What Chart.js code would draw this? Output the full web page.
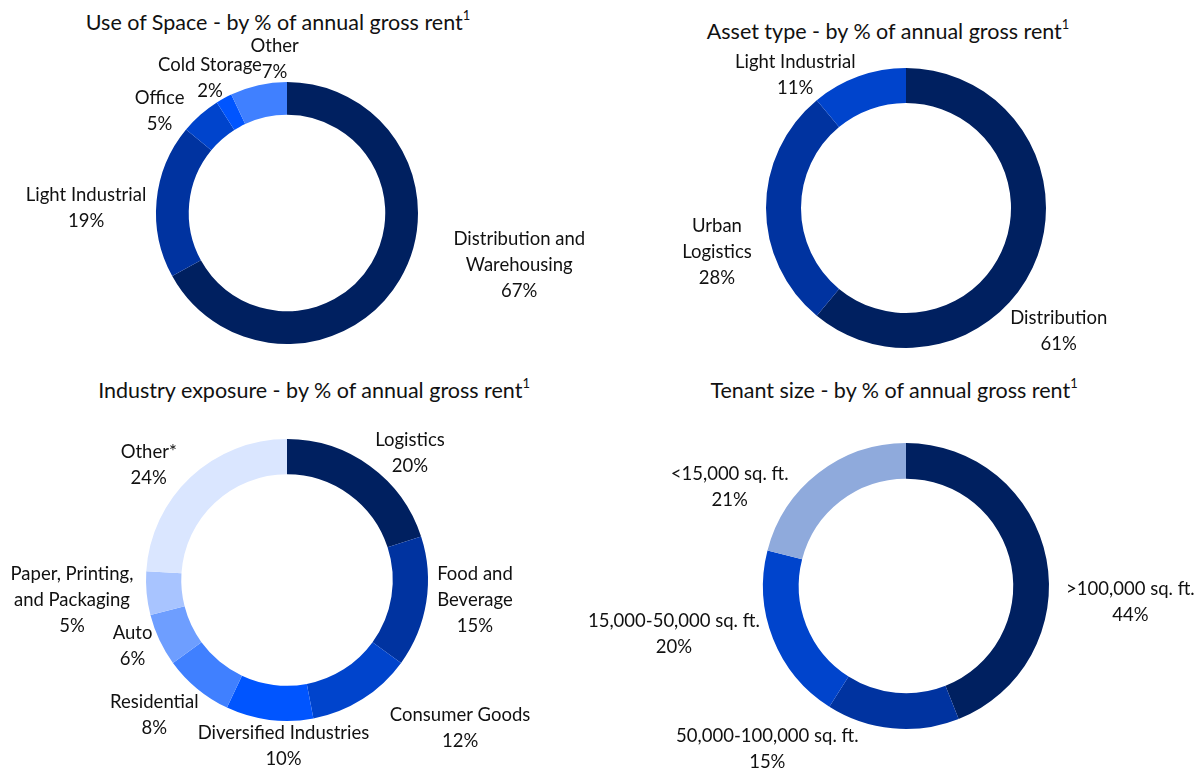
<!DOCTYPE html>
<html>
<head>
<meta charset="utf-8">
<title>Portfolio breakdown</title>
<script src="https://cdn.jsdelivr.net/npm/chart.js@4.4.1/dist/chart.umd.min.js"></script>
<style>
  body { margin: 0; background: #fff; font-family: Lato, "Open Sans", sans-serif; }
  #wrap { position: relative; width: 1202px; height: 772px; overflow: hidden; }
  canvas { position: absolute; }
  .ttl { position: absolute; font-size: 21.5px; color: #111; white-space: nowrap; transform: translate(-50%, -50%); }
  .ttl sup { font-size: 0.6em; vertical-align: 0.75em; line-height: 0; }
</style>
</head>
<body>
<div id="wrap">
  <div class="ttl" style="left:278px; top:22px">Use of Space - by % of annual gross rent<sup>1</sup></div>
  <div class="ttl" style="left:888px; top:31px">Asset type - by % of annual gross rent<sup>1</sup></div>
  <div class="ttl" style="left:314px; top:390px">Industry exposure - by % of annual gross rent<sup>1</sup></div>
  <div class="ttl" style="left:894px; top:390px">Tenant size - by % of annual gross rent<sup>1</sup></div>
  <canvas id="cSpace" width="601" height="386" style="left:0; top:0"></canvas>
  <canvas id="cAsset" width="601" height="386" style="left:601px; top:0"></canvas>
  <canvas id="cIndustry" width="601" height="386" style="left:0; top:386px"></canvas>
  <canvas id="cTenant" width="642" height="386" style="left:560px; top:386px"></canvas>
</div>
<script>
// ---- data ----
const spaceLabels = [["Distribution and", "Warehousing"], ["Light Industrial"], ["Office"], ["Cold Storage"], ["Other"]];
const spaceValues = [67, 19, 5, 2, 7];

const assetLabels = [["Distribution"], ["Urban", "Logistics"], ["Light Industrial"]];
const assetValues = [61, 28, 11];

const industryLabels = [["Logistics"], ["Food and", "Beverage"], ["Consumer Goods"], ["Diversified Industries"],
  ["Residential"], ["Auto"], ["Paper, Printing,", "and Packaging"], ["Other*"]];
const industryValues = [20, 15, 12, 10, 8, 6, 5, 24];

const tenantLabels = [[">100,000 sq. ft."], ["50,000-100,000 sq. ft."], ["15,000-50,000 sq. ft."], ["<15,000 sq. ft."]];
const tenantValues = [44, 15, 20, 21];

// ---- colours ----
const navy = "#002060";
const blue2 = "#0033A0";
const blue3 = "#0044CC";
const blue4 = "#0055FF";
const blue5 = "#4080FF";
const blue6 = "#6E9EFF";
const blue7 = "#A8C4FF";
const blue8 = "#DAE6FF";
const greyBlue = "#8FAADC";

// label placement: [angle shift in degrees from slice middle, distance beyond ring]
const spaceLabelPos = [[-18, 107], [-4, 70], [-10, 32], [-1, 24], [8, 23]];
const assetLabelPos = [[19, 56], [-13, 54], [-20, 33]];
const industryLabelPos = [[8, 36], [-3, 48], [-17, 87], [-6, 25], [5, 48], [2, 27], [0, 75], [-7, 39]];
const tenantLabelPos = [[15, 82], [35, 71], [10, 94], [-23, 59]];

const outsideLabels = {
  id: "outsideLabels",
  afterDatasetsDraw(chart, args, opts) {
    const ctx = chart.ctx;
    const meta = chart.getDatasetMeta(0);
    const values = chart.data.datasets[0].data;
    ctx.save();
    ctx.font = "18.5px Lato, 'Open Sans', sans-serif";
    ctx.fillStyle = "#111";
    ctx.textAlign = "center";
    ctx.textBaseline = "middle";
    meta.data.forEach((arc, i) => {
      const p = arc.getProps(["x", "y", "startAngle", "endAngle", "outerRadius"], true);
      const place = opts.pos[i];
      const mid = (p.startAngle + p.endAngle) / 2 + place[0] * Math.PI / 180;
      const r = p.outerRadius + place[1];
      const lx = p.x + Math.cos(mid) * r;
      const ly = p.y + Math.sin(mid) * r;
      const lines = chart.data.labels[i].concat([values[i] + "%"]);
      const lh = 26;
      lines.forEach((t, j) => {
        ctx.fillText(t, lx, ly + (j - (lines.length - 1) / 2) * lh);
      });
    });
    ctx.restore();
  }
};

function makeDonut(id, labels, values, colors, pos, pad) {
  return new Chart(document.getElementById(id), {
    type: "doughnut",
    data: {
      labels: labels,
      datasets: [{
        data: values,
        backgroundColor: colors,
        borderWidth: 0
      }]
    },
    options: {
      responsive: false,
      maintainAspectRatio: false,
      animation: false,
      cutout: "75%",
      layout: { padding: pad },
      plugins: {
        legend: { display: false },
        tooltip: { enabled: false },
        outsideLabels: { pos: pos }
      }
    },
    plugins: [outsideLabels]
  });
}

makeDonut("cSpace", spaceLabels, spaceValues, [navy, blue2, blue3, blue4, blue5], spaceLabelPos,
  { left: 156, right: 183, top: 82, bottom: 42 });
makeDonut("cAsset", assetLabels, assetValues, [navy, blue2, blue3], assetLabelPos,
  { left: 165, right: 156, top: 68, bottom: 38 });
makeDonut("cIndustry", industryLabels, industryValues, [navy, blue2, blue3, blue4, blue5, blue6, blue7, blue8], industryLabelPos,
  { left: 146, right: 173, top: 53, bottom: 51 });
makeDonut("cTenant", tenantLabels, tenantValues, [navy, blue2, blue3, greyBlue], tenantLabelPos,
  { left: 203, right: 153, top: 57, bottom: 43 });
</script>
</body>
</html>
